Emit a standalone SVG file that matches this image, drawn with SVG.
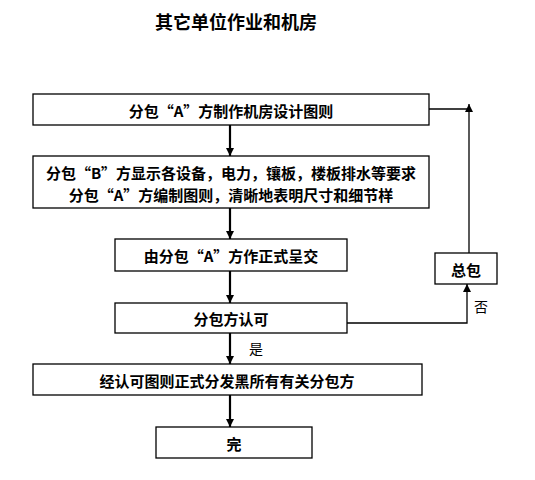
<svg xmlns="http://www.w3.org/2000/svg" width="535" height="480" viewBox="0 0 535 480">
<style>
.box{fill:#fff;stroke:#000;stroke-width:1.3}
.t{font-family:"Noto Sans CJK SC","Noto Sans CJK TC",sans-serif;font-size:15px;font-weight:bold;fill:#000;text-anchor:middle;dominant-baseline:central}
.lbl{font-family:"Noto Sans CJK SC",sans-serif;font-size:14px;fill:#000;text-anchor:middle;dominant-baseline:central}
.main{stroke:#000;stroke-width:2.2;fill:none}
.thin{stroke:#000;stroke-width:1.3;fill:none}
</style>
<defs>
<marker id="ah" viewBox="0 0 10 10" refX="10" refY="5" markerWidth="8" markerHeight="8" markerUnits="userSpaceOnUse" orient="auto">
<path d="M0,0 L10,5 L0,10 Z" fill="#000"/>
</marker>
<marker id="ah2" viewBox="0 0 10 10" refX="10" refY="5" markerWidth="8" markerHeight="8" markerUnits="userSpaceOnUse" orient="auto">
<path d="M0,0 L10,5 L0,10 Z" fill="#000"/>
</marker>
</defs>
<text x="236" y="21" class="t" style="font-size:18px">其它单位作业和机房</text>
<g id="connectors">
<line class="main" x1="230" y1="125" x2="230" y2="156" marker-end="url(#ah)"/>
<line class="main" x1="230" y1="208" x2="230" y2="239" marker-end="url(#ah)"/>
<line class="main" x1="230" y1="271" x2="230" y2="303" marker-end="url(#ah)"/>
<line class="main" x1="230" y1="333" x2="230" y2="364" marker-end="url(#ah)"/>
<line class="main" x1="230" y1="395" x2="230" y2="427" marker-end="url(#ah)"/>
<polyline class="thin" points="347,323 467,323 467,284" marker-end="url(#ah2)"/>
<line class="thin" x1="429" y1="109" x2="469" y2="109"/>
<line class="thin" x1="469" y1="253" x2="469" y2="104" marker-end="url(#ah2)"/>
<text x="256" y="348" class="lbl">是</text>
<text x="481" y="306" class="lbl">否</text>
</g>
<g id="n1"><rect class="box" x="33" y="94" width="396" height="31"/><text class="t" x="231" y="110">分包“A”方制作机房设计图则</text></g>
<g id="n2"><rect class="box" x="33" y="156" width="396" height="52"/><text class="t" x="231" y="172">分包“B”方显示各设备，电力，镶板，楼板排水等要求</text><text class="t" x="231" y="194">分包“A”方编制图则，清晰地表明尺寸和细节样</text></g>
<g id="n3"><rect class="box" x="115" y="239" width="232" height="32"/><text class="t" x="231" y="255">由分包“A”方作正式呈交</text></g>
<g id="n4"><rect class="box" x="115" y="303" width="232" height="30"/><text class="t" x="231" y="318">分包方认可</text></g>
<g id="n5"><rect class="box" x="33" y="364" width="389" height="31"/><text class="t" x="227" y="380">经认可图则正式分发黑所有有关分包方</text></g>
<g id="n6"><rect class="box" x="156" y="427" width="156" height="31"/><text class="t" x="234" y="443">完</text></g>
<g id="n7"><rect class="box" x="435" y="253" width="62" height="31"/><text class="t" x="466" y="269">总包</text></g>
</svg>
